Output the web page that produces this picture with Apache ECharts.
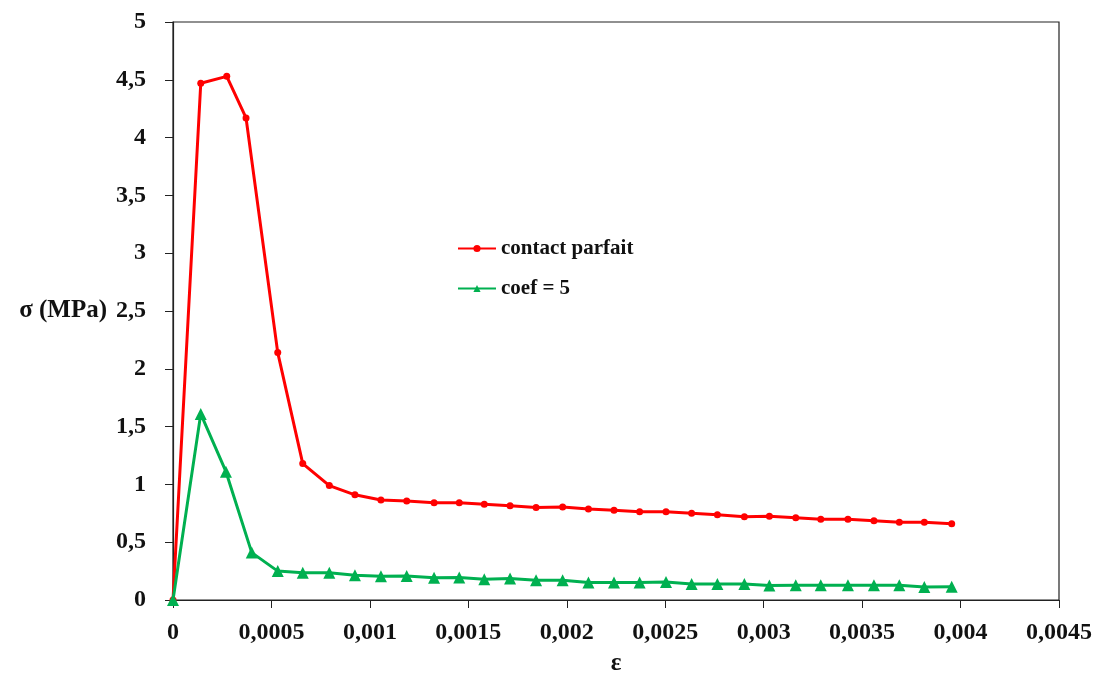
<!DOCTYPE html>
<html>
<head>
<meta charset="utf-8">
<script src="https://cdn.jsdelivr.net/npm/echarts@6/dist/echarts.min.js"></script>
<style>
  html, body { margin: 0; padding: 0; background: #fff; }
  #chart { width: 1097px; height: 677px; }
</style>
</head>
<body>
<div id="chart"></div>
<script>
// déformation (ε) et contrainte (σ, MPa)
var epsParfait = [0, 0.000141, 0.000273, 0.000371, 0.000532, 0.000659, 0.000794, 0.000924, 0.001056, 0.001187,
    0.001326, 0.001454, 0.001581, 0.001712, 0.001844, 0.001979, 0.00211, 0.00224, 0.00237, 0.002504,
    0.002634, 0.002765, 0.002902, 0.003029, 0.003163, 0.00329, 0.003428, 0.00356, 0.003689, 0.003816, 0.003955];
var sigParfait = [0, 4.47, 4.53, 4.17, 2.14, 1.18, 0.99, 0.91, 0.865, 0.856,
    0.842, 0.842, 0.828, 0.816, 0.80, 0.804, 0.787, 0.776, 0.764, 0.764,
    0.75, 0.738, 0.72, 0.724, 0.712, 0.698, 0.698, 0.686, 0.672, 0.672, 0.66];

var epsCoef = [0, 0.000141, 0.000269, 0.0004, 0.000532, 0.000659, 0.000794, 0.000924, 0.001056, 0.001187,
    0.001326, 0.001454, 0.001581, 0.001712, 0.001844, 0.001979, 0.00211, 0.00224, 0.00237, 0.002504,
    0.002634, 0.002765, 0.002902, 0.003029, 0.003163, 0.00329, 0.003428, 0.00356, 0.003689, 0.003816, 0.003955];
var sigCoef = [0, 1.61, 1.11, 0.41, 0.25, 0.236, 0.236, 0.215, 0.205, 0.208,
    0.192, 0.195, 0.18, 0.186, 0.17, 0.171, 0.152, 0.152, 0.152, 0.155,
    0.138, 0.138, 0.138, 0.125, 0.128, 0.128, 0.128, 0.128, 0.128, 0.112, 0.115];

var legendNames = ['contact parfait', 'coef = 5'];

function pairs(xs, ys) {
    var out = [];
    for (var i = 0; i < xs.length; i++) out.push([xs[i], ys[i]]);
    return out;
}
function virgule(v) {
    return String(+v.toFixed(5)).replace('.', ',');
}

var police = 'Liberation Serif';
var myChart = echarts.init(document.getElementById('chart'));

var option = {
    animation: false,
    grid: {
        left: 173, right: 38, top: 22, bottom: 77,
        outerBoundsMode: 'none',
        containLabel: false,
        show: true,
        borderColor: '#222',
        borderWidth: 1.2
    },
    legend: {
        orient: 'vertical',
        left: 452,
        top: 233,
        itemWidth: 38,
        itemHeight: 9,
        itemGap: 19,
        data: legendNames,
        textStyle: { fontFamily: police, fontWeight: 'bold', fontSize: 21, color: '#111' }
    },
    xAxis: {
        type: 'value',
        min: 0, max: 0.0045, interval: 0.0005,
        name: 'ε',
        nameLocation: 'middle',
        nameGap: 51,
        nameTextStyle: { fontFamily: police, fontWeight: 'bold', fontSize: 25, color: '#111' },
        axisLine: { lineStyle: { color: '#222', width: 1.2 } },
        axisTick: { inside: false, length: 8, lineStyle: { color: '#222' } },
        axisLabel: {
            margin: 21,
            fontFamily: police, fontWeight: 'bold', fontSize: 24, color: '#111',
            formatter: virgule
        },
        splitLine: { show: false }
    },
    yAxis: {
        type: 'value',
        min: 0, max: 5, interval: 0.5,
        name: 'σ (MPa)',
        nameLocation: 'middle',
        nameRotate: 0,
        nameGap: 66,
        nameTextStyle: { fontFamily: police, fontWeight: 'bold', fontSize: 25, color: '#111', align: 'right' },
        axisLine: { lineStyle: { color: '#222', width: 1.2 } },
        axisTick: { inside: false, length: 8, lineStyle: { color: '#222' } },
        axisLabel: {
            margin: 27,
            fontFamily: police, fontWeight: 'bold', fontSize: 24, color: '#111',
            formatter: virgule
        },
        splitLine: { show: false }
    },
    series: [
        {
            name: legendNames[0],
            type: 'line',
            data: pairs(epsParfait, sigParfait),
            symbol: 'circle',
            symbolSize: 7,
            lineStyle: { color: '#ff0000', width: 3 },
            itemStyle: { color: '#ff0000' }
        },
        {
            name: legendNames[1],
            type: 'line',
            data: pairs(epsCoef, sigCoef),
            symbol: 'triangle',
            symbolSize: 12,
            lineStyle: { color: '#00b050', width: 3 },
            itemStyle: { color: '#00b050' }
        }
    ]
};

myChart.setOption(option);
window.onresize = function () {
    myChart.resize();
};
</script>
</body>
</html>
